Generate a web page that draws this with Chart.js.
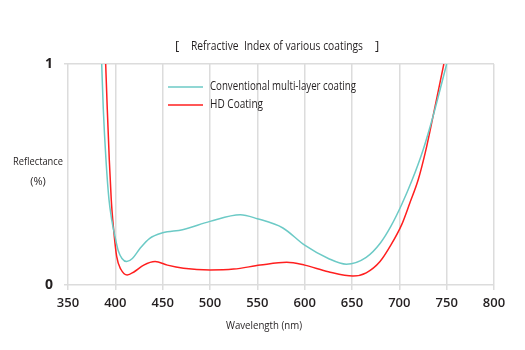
<!DOCTYPE html>
<html>
<head>
<meta charset="utf-8">
<script src="https://cdn.jsdelivr.net/npm/chart.js@4"></script>
<style>
  html, body { margin: 0; padding: 0; background: #fff; }
  #wrap { width: 525px; height: 350px; }
</style>
</head>
<body>
<div id="wrap"><canvas id="chart" width="525" height="350"></canvas></div>
<script>
// wavelength (nm) / reflectance
const convWavelength = [385.6, 387.3, 390.1, 393.3, 396.2, 399.6, 403.1, 407, 412, 418, 426, 436, 450, 471, 500, 532, 550, 577, 600, 625, 644, 665, 680, 691, 702.5, 713.7, 725, 735.7, 750]
const convReflect    = [1.0, 0.795, 0.568, 0.386, 0.295, 0.22, 0.155, 0.12, 0.106, 0.12, 0.165, 0.21, 0.236, 0.25, 0.288, 0.318, 0.30, 0.258, 0.18, 0.12, 0.094, 0.125, 0.19, 0.265, 0.364, 0.477, 0.61, 0.765, 1.0]

const hdWavelength = [389.8, 391.5, 393.6, 395.7, 397.9, 401.4, 406, 412.5, 420, 430, 442, 455, 472, 500, 525, 553, 581, 600, 625, 651, 665, 679.6, 691, 702.5, 711, 720, 728, 735.7, 747]
const hdReflect    = [1.0, 0.795, 0.568, 0.386, 0.265, 0.129, 0.07, 0.045, 0.06, 0.09, 0.106, 0.09, 0.076, 0.068, 0.072, 0.09, 0.103, 0.09, 0.06, 0.041, 0.055, 0.106, 0.18, 0.273, 0.37, 0.477, 0.61, 0.765, 1.0]

const xTicks = [350, 400, 450, 500, 550, 600, 650, 700, 750, 800]
const yTicks = [0, 1]

const seriesNames = ['Conventional multi-layer coating', 'HD Coating']
const seriesColors = ['#6ccac6', '#ff1f1f']

const FONT = '"Open Sans", "DejaVu Sans", sans-serif'

function toPoints(xs, ys) {
    return xs.map((x, i) => ({ x, y: ys[i] }))
}

// draw text squeezed to a target width (the original uses a narrow face)
function fitText(ctx, text, x, y, width, align) {
    const w = ctx.measureText(text).width
    const k = Math.min(1, width / w)
    ctx.save()
    ctx.translate(x, y)
    ctx.scale(k, 1)
    ctx.textAlign = align || 'left'
    ctx.fillText(text, 0, 0)
    ctx.restore()
}

const annotations = {
    id: 'annotations',
    afterDraw(chart) {
        const ctx = chart.ctx
        ctx.save()
        ctx.fillStyle = '#231f20'
        ctx.textBaseline = 'middle'

        // title
        ctx.font = '13px ' + FONT
        ctx.fillText('[', 175, 46)
        fitText(ctx, 'Refractive  Index of various coatings', 191, 46, 172)
        ctx.fillText(']', 375, 46)

        // legend
        ctx.font = '12px ' + FONT
        const rows = [87, 105]
        rows.forEach((y, i) => {
            ctx.strokeStyle = seriesColors[i]
            ctx.lineWidth = 1.5
            ctx.beginPath()
            ctx.moveTo(168, y)
            ctx.lineTo(203, y)
            ctx.stroke()
            ctx.fillStyle = '#231f20'
            fitText(ctx, seriesNames[i], 210, y, i === 0 ? 146 : 53)
        })

        // axis titles
        ctx.font = '11px ' + FONT
        fitText(ctx, 'Reflectance', 38, 162, 50, 'center')
        ctx.textAlign = 'center'
        ctx.fillText('(%)', 38, 182)
        fitText(ctx, 'Wavelength (nm)', 264, 326, 76, 'center')
        ctx.restore()
    }
}

new Chart(document.getElementById('chart').getContext('2d'), {
    type: 'line',
    data: {
        datasets: [
            {
                label: seriesNames[0],
                data: toPoints(convWavelength, convReflect),
                borderColor: seriesColors[0],
                borderWidth: 1.5,
                pointRadius: 0,
                cubicInterpolationMode: 'monotone',
            },
            {
                label: seriesNames[1],
                data: toPoints(hdWavelength, hdReflect),
                borderColor: seriesColors[1],
                borderWidth: 1.5,
                pointRadius: 0,
                cubicInterpolationMode: 'monotone',
            },
        ],
    },
    options: {
        responsive: false,
        animation: false,
        layout: { padding: { top: 64, right: 31, left: 0, bottom: 0 } },
        plugins: {
            legend: { display: false },
            tooltip: { enabled: false },
        },
        scales: {
            x: {
                type: 'linear',
                min: 350,
                max: 800,
                afterBuildTicks: scale => { scale.ticks = xTicks.map(v => ({ value: v })) },
                afterFit: scale => { scale.height = 65 },
                grid: { color: '#dcdcdc', lineWidth: 1.5, tickLength: 5 },
                border: { display: false },
                ticks: {
                    padding: 5,
                    color: '#231f20',
                    font: { family: FONT, size: 13, weight: '600' },
                },
            },
            y: {
                min: 0,
                max: 1,
                afterBuildTicks: scale => { scale.ticks = yTicks.map(v => ({ value: v })) },
                afterFit: scale => { scale.width = 68 },
                grid: { color: '#dcdcdc', lineWidth: 1.5, tickLength: 4 },
                border: { display: false },
                ticks: {
                    padding: 11,
                    color: '#231f20',
                    font: { family: FONT, size: 14, weight: 'bold' },
                },
            },
        },
    },
    plugins: [annotations],
})
</script>
</body>
</html>
